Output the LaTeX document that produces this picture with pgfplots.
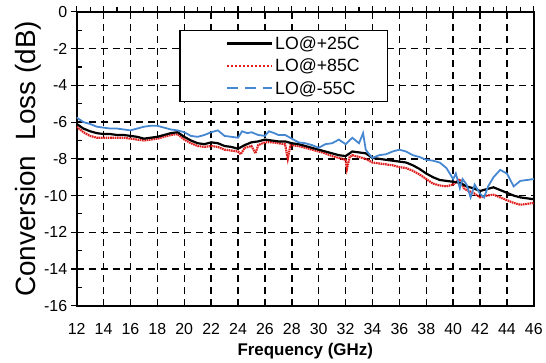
\documentclass[border=0pt]{standalone}
\usepackage{pgfplots}
\pgfplotsset{compat=1.18}
\usepackage{fontspec}
\setmainfont{Liberation Sans}
\definecolor{cred}{RGB}{225,30,30}
\definecolor{cblue}{RGB}{70,135,210}
\begin{document}
\begin{tikzpicture}
\begin{axis}[
  name=ax,
  scale only axis, width=459pt, height=295pt,
  xmin=12, xmax=46, ymin=-16, ymax=0,
  xtick={12,14,...,46}, ytick={-16,-14,...,0},
  minor x tick num=1, minor y tick num=1,
  xtick pos=upper, xticklabel pos=lower,
  ytick pos=left, yticklabel pos=left,
  tick align=outside, major tick length=6pt, minor tick length=5pt,
  tick style={black, line width=1.1pt},
  minor y tick style={xshift=5pt},
  axis line style={line width=1.8pt},
  grid=major,
  major grid style={black, line width=1.4pt, dash pattern=on 7pt off 5pt},
  /pgf/number format/assume math mode=true,
  ticklabel style={font=\fontsize{16}{18}\selectfont},
  xticklabel style={yshift=-8pt},
  xlabel={\bfseries Frequency (GHz)},
  xlabel style={font=\fontsize{17}{19}\selectfont, yshift=-2pt},
  ylabel={Conversion\ \ Loss (dB)},
  ylabel style={font=\fontsize{28}{30}\selectfont, yshift=-4pt},
  legend image code/.code={\path (0pt,0pt); \draw[#1] (20pt,0pt) -- (65pt,0pt);},
  legend style={at={(0.224,0.939)}, anchor=north west, draw=black, line width=1.5pt,
    font=\fontsize{17.8}{19}\selectfont, inner xsep=26pt, inner ysep=4pt, row sep=4pt,
    cells={anchor=west}},
]
\addlegendimage{black, line width=2.8pt}
\addlegendentry{LO@+25C}
\addlegendimage{cred, line width=2pt, dotted}
\addlegendentry{LO@+85C}
\addlegendimage{cblue, line width=2.2pt, dash pattern=on 11pt off 7pt}
\addlegendentry{LO@-55C}
\addplot[cred, line width=2.2pt, dash pattern=on 1.6pt off 0.7pt, forget plot] coordinates {
(12,-6.25)(12.5,-6.55)(13,-6.75)(13.5,-6.85)(14,-6.85)(14.5,-6.85)(15,-6.85)(15.5,-6.85)(16,-6.9)(16.5,-6.95)(17,-7.0)(17.5,-6.95)(18,-6.9)(18.5,-6.8)(19,-6.7)(19.5,-6.65)(20,-6.95)(20.5,-7.15)(21,-7.3)(21.5,-7.35)(22,-7.3)(22.5,-7.35)(23,-7.5)(23.5,-7.55)(24,-7.6)(24.2,-7.75)(24.5,-7.4)(25,-7.3)(25.3,-7.7)(25.5,-7.25)(26,-7.1)(26.5,-7.1)(27,-7.15)(27.5,-7.2)(27.7,-8.0)(27.9,-7.25)(28.5,-7.3)(29,-7.4)(29.5,-7.5)(30,-7.6)(30.5,-7.7)(31,-7.85)(31.5,-7.95)(32,-8.05)(32.1,-8.55)(32.3,-7.9)(32.5,-7.8)(33,-7.9)(33.5,-8.0)(34,-8.2)(34.5,-8.25)(35,-8.3)(35.5,-8.35)(36,-8.45)(36.5,-8.5)(37,-8.65)(37.5,-8.85)(38,-9.1)(38.5,-9.35)(39,-9.45)(39.5,-9.5)(40,-9.4)(40.5,-9.1)(40.8,-9.6)(41,-9.7)(41.5,-9.85)(42,-10.1)(42.5,-10.0)(43,-9.95)(43.5,-10.1)(44,-10.25)(44.5,-10.4)(45,-10.5)(45.5,-10.45)(46,-10.4)
};
\addplot[black, line width=2.2pt, forget plot] coordinates {
(12,-6.1)(12.5,-6.35)(13,-6.5)(13.5,-6.6)(14,-6.65)(14.5,-6.65)(15,-6.7)(15.5,-6.7)(16,-6.75)(16.5,-6.8)(17,-6.9)(17.5,-6.85)(18,-6.8)(18.5,-6.7)(19,-6.6)(19.5,-6.55)(20,-6.8)(20.5,-7.0)(21,-7.15)(21.5,-7.2)(22,-7.1)(22.5,-7.15)(23,-7.3)(23.5,-7.35)(24,-7.45)(24.5,-7.25)(25,-7.1)(25.5,-7.05)(26,-6.95)(26.5,-7.0)(27,-7.05)(27.5,-7.05)(28,-7.15)(28.5,-7.2)(29,-7.3)(29.5,-7.4)(30,-7.5)(30.5,-7.6)(31,-7.7)(31.5,-7.8)(32,-7.85)(32.5,-7.6)(33,-7.65)(33.5,-7.7)(34,-7.95)(34.5,-8.0)(35,-8.05)(35.5,-8.1)(36,-8.15)(36.5,-8.2)(37,-8.35)(37.5,-8.55)(38,-8.8)(38.5,-9.0)(39,-9.15)(39.5,-9.2)(40,-9.25)(40.5,-9.3)(41,-9.5)(41.5,-9.6)(42,-9.75)(42.5,-9.65)(43,-9.55)(43.5,-9.7)(44,-9.85)(44.5,-10.0)(45,-10.1)(45.5,-10.15)(46,-10.2)
};
\addplot[cblue, line width=1.8pt, forget plot] coordinates {
(12,-5.75)(12.5,-6.0)(13,-6.1)(13.5,-6.25)(14,-6.3)(14.5,-6.35)(15,-6.35)(15.5,-6.4)(16,-6.45)(16.5,-6.35)(17,-6.25)(17.5,-6.2)(18,-6.2)(18.5,-6.3)(19,-6.4)(19.5,-6.45)(20,-6.55)(20.5,-6.75)(21,-6.8)(21.5,-6.7)(22,-6.55)(22.5,-6.45)(23,-6.75)(23.5,-6.8)(24,-6.85)(24.3,-6.5)(24.7,-6.6)(25,-6.55)(25.5,-6.7)(26,-6.75)(26.3,-6.5)(26.7,-6.6)(27,-6.7)(27.5,-6.7)(28,-6.9)(28.5,-7.1)(29,-7.15)(29.5,-7.25)(30,-7.4)(30.5,-7.2)(31,-7.15)(31.5,-6.95)(32,-7.2)(32.5,-6.85)(33,-7.15)(33.3,-6.6)(33.5,-7.5)(33.7,-7.7)(34,-7.95)(34.5,-7.8)(35,-7.75)(35.5,-7.6)(36,-7.5)(36.5,-7.6)(37,-7.8)(37.5,-7.9)(38,-8.05)(38.5,-8.1)(39,-8.2)(39.5,-8.5)(40,-9.1)(40.2,-8.8)(40.5,-9.6)(40.7,-9.1)(41,-9.4)(41.3,-10.1)(41.6,-9.4)(42,-9.9)(42.3,-10.1)(42.6,-9.5)(43,-9.0)(43.5,-8.6)(44,-8.8)(44.5,-9.5)(45,-9.2)(45.5,-9.15)(46,-9.1)
};
\end{axis}
\path (ax.south west) ++(-77pt,-55pt) rectangle ++(546pt,362pt);
\end{tikzpicture}
\end{document}
